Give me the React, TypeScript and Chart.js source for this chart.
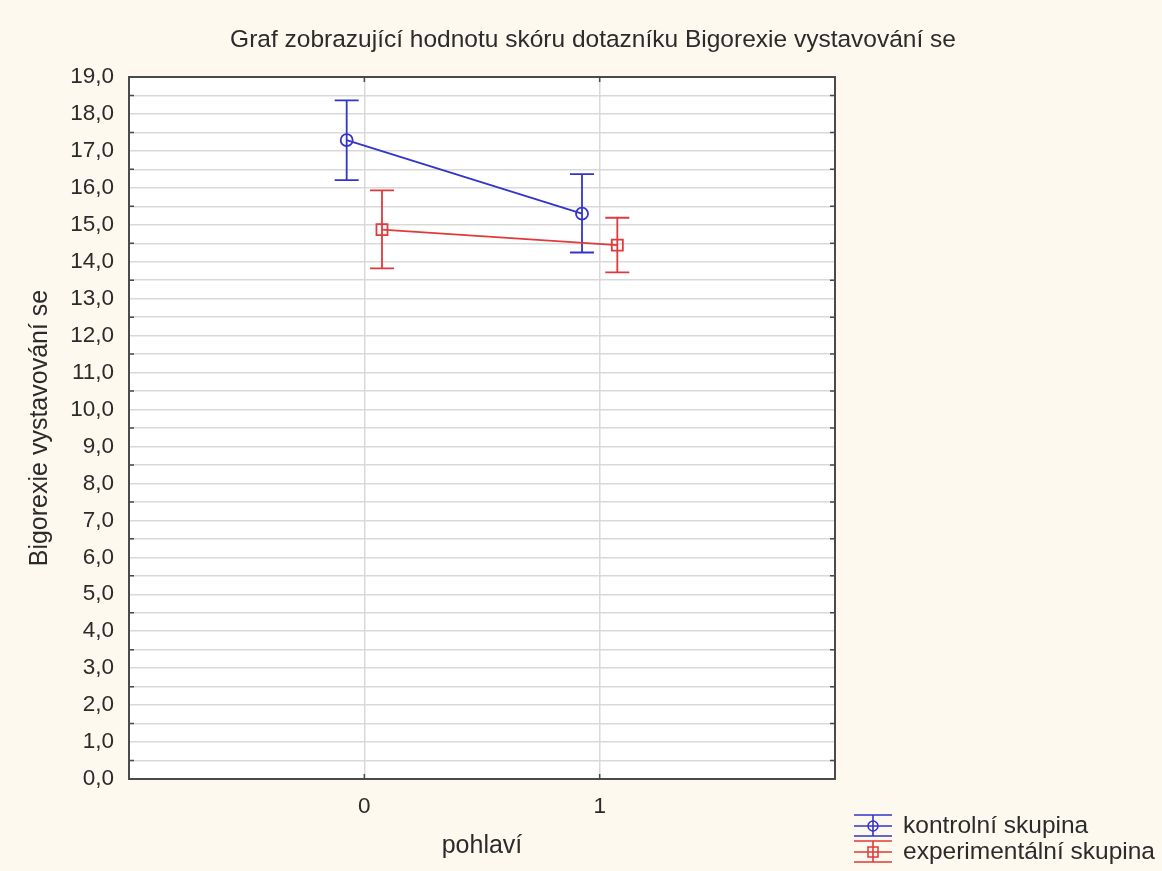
import React, { useEffect, useRef } from "react";
import { Chart, registerables } from "chart.js";

Chart.register(...registerables);

// ---- data ----
const groupValues = [0, 1];
const groupLabels = ["0", "1"];
const seriesNames = ["kontrolní skupina", "experimentální skupina"];
const kontrolniMean = [17.29, 15.3];
const kontrolniUpper = [18.37, 16.37];
const kontrolniLower = [16.21, 14.25];
const experimentalniMean = [14.87, 14.45];
const experimentalniUpper = [15.93, 15.19];
const experimentalniLower = [13.82, 13.71];
const yTickValues = [0, 1, 2, 3, 4, 5, 6, 7, 8, 9, 10, 11, 12, 13, 14, 15, 16, 17, 18, 19];

const TITLE = "Graf zobrazující hodnotu skóru dotazníku Bigorexie vystavování se";
const X_TITLE = "pohlaví";
const Y_TITLE = "Bigorexie vystavování se";

// ---- style ----
const W = 1162;
const H = 871;
const BG = "#fdf9ee";
const BLUE = "#3434cc";
const RED = "#e03a3a";
const TEXT = "#2b2b2b";
const FONT = '"Liberation Sans", Arial, sans-serif';
const OFFSET = 0.075;

const seriesColors = [BLUE, RED];
const seriesStyles = ["circle", "rect"];
const seriesMeans = [kontrolniMean, experimentalniMean];
const seriesUppers = [kontrolniUpper, experimentalniUpper];
const seriesLowers = [kontrolniLower, experimentalniLower];
const seriesOffsets = [-OFFSET, OFFSET];

const drawMarker = (ctx: CanvasRenderingContext2D, style: string, x: number, y: number, color: string) => {
  ctx.save();
  ctx.strokeStyle = color;
  ctx.lineWidth = 1.5;
  ctx.beginPath();
  if (style === "circle") {
    ctx.arc(x, y, 5, 0, Math.PI * 2);
  } else {
    ctx.rect(x - 5, y - 5, 10, 10);
  }
  ctx.stroke();
  ctx.restore();
};

const decorPlugin = {
  id: "decor",
  beforeDraw(chart: any) {
    const { ctx, chartArea } = chart;
    ctx.save();
    ctx.fillStyle = BG;
    ctx.fillRect(0, 0, chart.width, chart.height);
    ctx.fillStyle = "#ffffff";
    ctx.fillRect(chartArea.left, chartArea.top, chartArea.right - chartArea.left, chartArea.bottom - chartArea.top);
    ctx.restore();
  },
  beforeDatasetsDraw(chart: any) {
    const { ctx } = chart;
    const xs = chart.scales.x;
    const ys = chart.scales.y;
    ctx.save();
    ctx.lineWidth = 1.8;
    seriesMeans.forEach((_, s) => {
      ctx.strokeStyle = seriesColors[s];
      groupValues.forEach((g, i) => {
        const x = xs.getPixelForValue(g + seriesOffsets[s]);
        const yu = ys.getPixelForValue(seriesUppers[s][i]);
        const yl = ys.getPixelForValue(seriesLowers[s][i]);
        ctx.beginPath();
        ctx.moveTo(x, yu);
        ctx.lineTo(x, yl);
        ctx.moveTo(x - 12, yu);
        ctx.lineTo(x + 12, yu);
        ctx.moveTo(x - 12, yl);
        ctx.lineTo(x + 12, yl);
        ctx.stroke();
      });
    });
    ctx.restore();
  },
  afterDraw(chart: any) {
    const { ctx, chartArea } = chart;
    const { left, right, top, bottom } = chartArea;
    const xs = chart.scales.x;
    const ys = chart.scales.y;
    ctx.save();
    // frame
    ctx.strokeStyle = "#4a4a4a";
    ctx.lineWidth = 2;
    ctx.strokeRect(left, top, right - left, bottom - top);
    // inner tick marks
    ctx.lineWidth = 1.5;
    ctx.beginPath();
    yTickValues.forEach((v) => {
      const hv = v + 0.5;
      if (hv < 19) {
        const y = ys.getPixelForValue(hv);
        ctx.moveTo(left, y);
        ctx.lineTo(left + 5, y);
        ctx.moveTo(right, y);
        ctx.lineTo(right - 5, y);
      }
    });
    groupValues.forEach((g) => {
      const x = xs.getPixelForValue(g);
      ctx.moveTo(x, bottom);
      ctx.lineTo(x, bottom - 5);
      ctx.moveTo(x, top);
      ctx.lineTo(x, top + 5);
    });
    ctx.stroke();

    // texts
    ctx.fillStyle = TEXT;
    ctx.textBaseline = "middle";
    ctx.textAlign = "center";
    ctx.font = `24.5px ${FONT}`;
    ctx.fillText(TITLE, 593, 40);
    ctx.font = `25px ${FONT}`;
    ctx.fillText(X_TITLE, 482, 846);
    ctx.save();
    ctx.translate(40, 428);
    ctx.rotate(-Math.PI / 2);
    ctx.fillText(Y_TITLE, 0, 0);
    ctx.restore();

    // legend
    ctx.textAlign = "left";
    ctx.font = `24.5px ${FONT}`;
    const rows = [826, 852];
    seriesNames.forEach((name, s) => {
      const cy = rows[s];
      const cx = 873;
      ctx.strokeStyle = seriesColors[s];
      ctx.lineWidth = 1.6;
      ctx.beginPath();
      ctx.moveTo(cx - 19, cy - 11);
      ctx.lineTo(cx + 19, cy - 11);
      ctx.moveTo(cx - 19, cy);
      ctx.lineTo(cx + 19, cy);
      ctx.moveTo(cx - 19, cy + 10);
      ctx.lineTo(cx + 19, cy + 10);
      ctx.moveTo(cx, cy - 11);
      ctx.lineTo(cx, cy + 10);
      ctx.stroke();
      drawMarker(ctx, seriesStyles[s], cx, cy, seriesColors[s]);
      ctx.fillStyle = TEXT;
      ctx.fillText(name, 903, cy);
    });
    ctx.restore();
  },
};

export default function App() {
  const canvasRef = useRef<HTMLCanvasElement | null>(null);

  useEffect(() => {
    if (!canvasRef.current) return;
    const datasets = seriesNames.map((name, s) => ({
      label: name,
      data: groupValues.map((g, i) => ({ x: g + seriesOffsets[s], y: seriesMeans[s][i] })),
      borderColor: seriesColors[s],
      backgroundColor: "rgba(255,255,255,0)",
      borderWidth: 1.8,
      pointStyle: seriesStyles[s],
      pointRadius: s === 0 ? 6 : 7.8,
      pointBorderWidth: 1.8,
      pointBorderColor: seriesColors[s],
      pointBackgroundColor: "rgba(255,255,255,0)",
      tension: 0,
    }));
    const chart = new Chart(canvasRef.current, {
      type: "line",
      data: { datasets },
      plugins: [decorPlugin],
      options: {
        animation: false,
        responsive: false,
        devicePixelRatio: 1,
        layout: { padding: { left: 0, top: 77, right: W - 835, bottom: 0 } },
        plugins: {
          legend: { display: false },
          title: { display: false },
          tooltip: { enabled: false },
        },
        scales: {
          x: {
            type: "linear",
            min: -1,
            max: 2,
            afterFit: (scale: any) => {
              scale.height = H - 779;
            },
            afterBuildTicks: (scale: any) => {
              scale.ticks = [-1, ...groupValues, 2].map((v) => ({ value: v }));
            },
            ticks: {
              autoSkip: false,
              maxRotation: 0,
              padding: 14,
              color: TEXT,
              font: { family: FONT, size: 22.5 },
              callback: (v: any) => {
                const idx = groupValues.indexOf(Number(v));
                return idx >= 0 ? groupLabels[idx] : "";
              },
            },
            grid: { color: "#d9d9d9", lineWidth: 1.5, drawTicks: false },
            border: { display: false },
          },
          y: {
            type: "linear",
            min: 0,
            max: 19,
            afterFit: (scale: any) => {
              scale.width = 129;
            },
            afterBuildTicks: (scale: any) => {
              const t: any[] = [];
              yTickValues.forEach((v) => {
                t.push({ value: v });
                if (v < 19) t.push({ value: v + 0.5 });
              });
              scale.ticks = t;
            },
            ticks: {
              autoSkip: false,
              padding: 15,
              color: TEXT,
              font: { family: FONT, size: 22.5 },
              callback: (v: any) => (Number.isInteger(Number(v)) ? Number(v).toFixed(1).replace(".", ",") : ""),
            },
            grid: { color: "#d9d9d9", lineWidth: 1.5, drawTicks: false },
            border: { display: false },
          },
        },
      },
    });
    return () => chart.destroy();
  }, []);

  return (
    <div style={{ position: "fixed", left: 0, top: 0, width: W, height: H, background: BG }}>
      <canvas ref={canvasRef} width={W} height={H} style={{ display: "block", width: W, height: H }} />
    </div>
  );
}
